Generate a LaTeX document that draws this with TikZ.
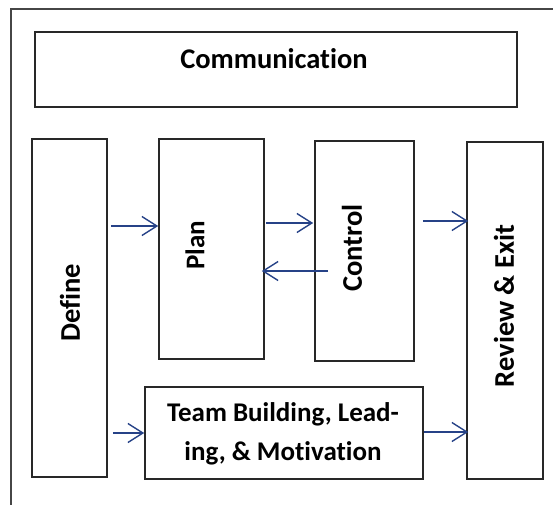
\documentclass[tikz,border=0pt]{standalone}
\usepackage{fontspec}
\setmainfont{Carlito}[Ligatures=NoCommon]
\usetikzlibrary{arrows.meta}
\definecolor{arrowblue}{RGB}{38,66,135}
\definecolor{framegray}{RGB}{70,70,70}
\definecolor{boxgray}{RGB}{40,40,40}
\tikzset{
  box/.style={draw=boxgray, line width=1.6pt, rectangle, inner sep=0pt},
  lbl/.style={inner sep=0pt, font=\bfseries\fontsize{27}{39}\selectfont},
  biglbl/.style={inner sep=0pt, font=\bfseries\fontsize{28.5}{39}\selectfont},
  vlbl/.style={lbl, rotate=90},
  vbiglbl/.style={biglbl, rotate=90},
  flow/.style={draw=arrowblue, line width=1.4pt,
    -{Straight Barb[length=15pt,width=19pt,line width=1.4pt]}},
}
\begin{document}
\begin{tikzpicture}[x=1pt,y=-1pt]
\useasboundingbox (0,0) rectangle (553,504);
\clip (0,0) rectangle (553,504);
% outer frame (only its top and left sides fall inside the picture)
\coordinate (frameBL) at (11,520);
\coordinate (frameTL) at (11,9);
\coordinate (frameTR) at (570,9);
\draw[framegray, line width=2pt] (frameBL) -- (frameTL) -- (frameTR);
% boxes
\node[box, minimum width=482, minimum height=75] (comm) at (276,69.5) {};
\node[box, minimum width=75, minimum height=338] (define) at (69.5,308) {};
\node[box, minimum width=105, minimum height=220] (plan) at (211.5,249) {};
\node[box, minimum width=99, minimum height=220] (control) at (364.5,251) {};
\node[box, minimum width=76, minimum height=337] (review) at (505,310.5) {};
\node[box, minimum width=278, minimum height=92] (team) at (284,433) {};
% labels
\node[biglbl] (commtxt) at (274,59) {Communication};
\node[vbiglbl] (definetxt) at (70,303) {Define};
\node[vlbl] (plantxt) at (195,245) {Plan};
\node[vbiglbl] (controltxt) at (352,248) {Control};
\node[vbiglbl] (reviewtxt) at (504,306) {Review \& Exit};
\node[lbl, align=center] (teamtxt) at (283,434) {Team Building, Lead-\\ing, \& Motivation};
% arrow rows
\coordinate (r1) at (0,226);
\coordinate (r2) at (0,223);
\coordinate (r3) at (0,271);
\coordinate (r4) at (0,221);
\coordinate (r5) at (0,433);
\coordinate (r6) at (0,432);
\coordinate (backstart) at (328,271);
% connectors
\draw[flow, shorten <=3pt] (define.east |- r1) -- (plan.west |- r1);
\draw[flow, shorten <=1pt, shorten >=1pt] (plan.east |- r2) -- (control.west |- r2);
\draw[flow, shorten >=-3pt] (backstart) -- (plan.east |- r3);
\draw[flow, shorten <=8pt, shorten >=-2pt] (control.east |- r4) -- (review.west |- r4);
\draw[flow, shorten <=5pt] (define.east |- r5) -- (team.west |- r5);
\draw[flow, shorten >=-2pt] (team.east |- r6) -- (review.west |- r6);
\end{tikzpicture}
\end{document}
